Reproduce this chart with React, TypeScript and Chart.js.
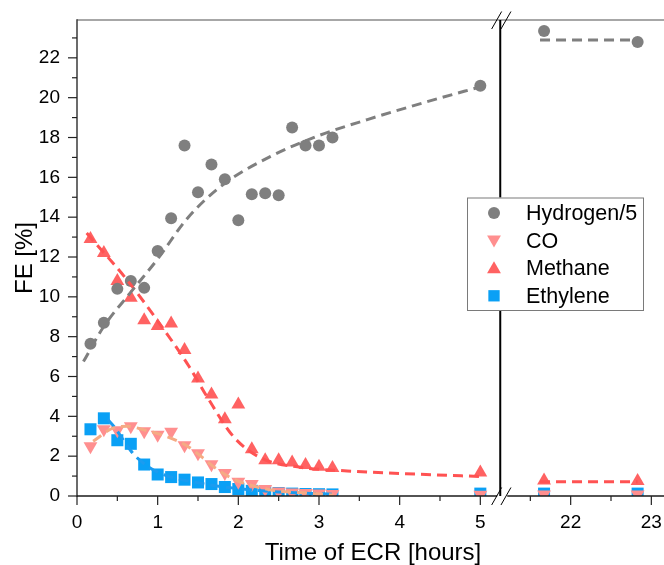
import React, { useEffect, useRef } from "react";
import { Chart, registerables } from "chart.js";

Chart.register(...registerables);

const FONT = "'Liberation Sans', Arial, Helvetica, sans-serif";

// ---- broken x axis (hours) ----
const BREAK_AT = 5.247;
const RESUME_AT = 21.127;
const X_END = 23.157;
const Y_MAX = 23.9;
const GAP = RESUME_AT - BREAK_AT;
const toAxis = (h: number) => (h > BREAK_AT + 0.001 ? h - GAP : h);
const fromAxis = (v: number) => (v > BREAK_AT + 0.001 ? v + GAP : v);

// ---- ticks ----
const xMajorTicks = [0, 1, 2, 3, 4, 5, 22, 23];
const xMinorTicks = [0.5, 1.5, 2.5, 3.5, 4.5, 21.5, 22.5];
const yMajorTicks = [0, 2, 4, 6, 8, 10, 12, 14, 16, 18, 20, 22];
const yMinorTicks = [1, 3, 5, 7, 9, 11, 13, 15, 17, 19, 21, 23];

// ---- measured data ----
const sampleTimes = [0.167, 0.333, 0.5, 0.667, 0.833, 1.0, 1.167, 1.333, 1.5, 1.667, 1.833, 2.0, 2.167, 2.333, 2.5, 2.667, 2.833, 3.0, 3.167, 5.0, 21.67, 22.83];
const hydrogen5 = [7.65, 8.7, 10.4, 10.8, 10.45, 12.3, 13.95, 17.6, 15.25, 16.65, 15.9, 13.85, 15.15, 15.2, 15.1, 18.5, 17.6, 17.6, 18.0, 20.6, 23.35, 22.8];
const co = [2.5, 3.35, 3.3, 3.5, 3.25, 3.07, 3.23, 2.55, 2.15, 1.6, 1.15, 0.72, 0.6, 0.35, 0.22, 0.17, 0.15, 0.12, 0.1, 0.06, 0.08, 0.08];
const methane = [12.9, 12.2, 10.8, 9.95, 8.83, 8.53, 8.66, 7.33, 5.9, 5.1, 3.85, 4.6, 2.35, 1.8, 1.8, 1.68, 1.56, 1.47, 1.4, 1.18, 0.78, 0.75];
const ethylene = [3.35, 3.9, 2.8, 2.62, 1.58, 1.08, 0.95, 0.82, 0.68, 0.6, 0.45, 0.35, 0.26, 0.19, 0.15, 0.12, 0.1, 0.09, 0.08, 0.12, 0.12, 0.12];

// ---- fitted (dashed) curves ----
const h2FitTimes = [0.08, 0.33, 0.66, 1.0, 1.37, 1.8, 2.4, 3.0, 3.6, 4.3, 5.05];
const h2FitValues = [6.75, 8.5, 10.2, 11.9, 13.95, 15.6, 17.05, 18.1, 18.9, 19.75, 20.6];
const h2LateFitTimes = [21.62, 22.83];
const h2LateFitValues = [22.9, 22.9];
const coFitTimes = [0.2, 0.46, 0.62, 0.83, 1.08, 1.35, 1.55, 1.7, 1.94, 2.36, 2.9, 3.18];
const coFitValues = [2.75, 3.43, 3.5, 3.32, 3.03, 2.55, 1.95, 1.45, 0.85, 0.34, 0.13, 0.05];
const ch4FitTimes = [0.12, 0.62, 1.08, 1.39, 1.61, 1.94, 2.29, 2.77, 3.35, 4.2, 5.05];
const ch4FitValues = [13.2, 10.85, 8.34, 6.5, 5.0, 2.98, 1.89, 1.44, 1.26, 1.1, 0.97];
const ch4LateFitTimes = [21.62, 22.83];
const ch4LateFitValues = [0.72, 0.72];
const c2h4FitTimes = [0.38, 0.46, 0.66, 0.75, 1.0, 1.53, 2.0, 2.5, 2.9, 3.2];
const c2h4FitValues = [3.85, 3.48, 2.31, 1.9, 1.2, 0.64, 0.37, 0.2, 0.13, 0.08];

const legendLabels = ["Hydrogen/5", "CO", "Methane", "Ethylene"];

const H2_COLOR = "#7f7f7f";
const CO_COLOR = "#ff8f8f";
const CO_LINE = "#f5ab84";
const CH4_COLOR = "#ff6262";
const CH4_LINE = "#ff5252";
const C2H4_COLOR = "#0aa0f5";
const C2H4_LINE = "#1b9cf0";

const toPoints = (times: number[], vals: number[]) => times.map((t, i) => ({ x: toAxis(t), y: vals[i] }));

function fitLine(label: string, times: number[], vals: number[], color: string) {
  return {
    label,
    data: toPoints(times, vals),
    showLine: true,
    borderColor: color,
    backgroundColor: color,
    borderWidth: 3,
    borderDash: [10, 6],
    pointRadius: 0,
    cubicInterpolationMode: "monotone",
    fill: false,
    order: 0,
  };
}

function markers(label: string, vals: number[], color: string, style: string, radius: number, rotation = 0) {
  return {
    label,
    data: toPoints(sampleTimes, vals),
    showLine: false,
    pointStyle: style,
    pointRadius: radius,
    pointRotation: rotation,
    pointBackgroundColor: color,
    pointBorderColor: color,
    pointBorderWidth: 0,
    backgroundColor: color,
    borderColor: color,
    order: 1,
  };
}

function seg(ctx: CanvasRenderingContext2D, x1: number, y1: number, x2: number, y2: number) {
  ctx.beginPath();
  ctx.moveTo(x1, y1);
  ctx.lineTo(x2, y2);
  ctx.stroke();
}

function drawMarker(ctx: CanvasRenderingContext2D, kind: string, x: number, y: number, r: number, rot: number, color: string) {
  ctx.save();
  ctx.fillStyle = color;
  ctx.translate(x, y);
  ctx.rotate((rot * Math.PI) / 180);
  ctx.beginPath();
  if (kind === "circle") {
    ctx.arc(0, 0, r, 0, Math.PI * 2);
  } else if (kind === "triangle") {
    for (let k = 0; k < 3; k++) {
      const a = (k * 2 * Math.PI) / 3;
      const px = Math.sin(a) * r;
      const py = -Math.cos(a) * r;
      if (k === 0) ctx.moveTo(px, py);
      else ctx.lineTo(px, py);
    }
    ctx.closePath();
  } else {
    const s = r * Math.SQRT1_2;
    ctx.rect(-s, -s, 2 * s, 2 * s);
  }
  ctx.fill();
  ctx.restore();
}

// the plot area runs to the right edge of the canvas (cut off, as in the original)
const fillRight = {
  id: "fillRight",
  afterLayout(chart: any) {
    const a = chart.chartArea;
    const x = chart.scales.x;
    a.right = chart.width;
    a.width = a.right - a.left;
    x.right = chart.width;
    x.width = x.right - x.left;
    x.configure();
  },
};

const decorations = {
  id: "decorations",
  afterDraw(chart: any) {
    const { ctx, chartArea: a, scales } = chart;
    const x = scales.x;
    const y = scales.y;
    const bx = x.getPixelForValue(BREAK_AT);
    ctx.save();
    ctx.lineCap = "butt";

    // frame & axes
    ctx.strokeStyle = "#8a8a8a";
    ctx.lineWidth = 1.5;
    seg(ctx, a.left, a.top, a.right, a.top);
    ctx.strokeStyle = "#3a3a3a";
    seg(ctx, a.left, a.top - 0.75, a.left, a.bottom + 0.75);
    ctx.strokeStyle = "#1a1a1a";
    seg(ctx, a.left, a.bottom, bx - 3, a.bottom);
    seg(ctx, bx + 7, a.bottom, a.right, a.bottom);

    // ticks
    ctx.lineWidth = 1.2;
    ctx.strokeStyle = "#222";
    yMajorTicks.forEach((v) => { const p = y.getPixelForValue(v); seg(ctx, a.left - 9, p, a.left, p); });
    yMinorTicks.forEach((v) => { const p = y.getPixelForValue(v); seg(ctx, a.left - 5, p, a.left, p); });
    xMajorTicks.forEach((h) => { const p = x.getPixelForValue(toAxis(h)); seg(ctx, p, a.bottom, p, a.bottom + 9); });
    xMinorTicks.forEach((h) => { const p = x.getPixelForValue(toAxis(h)); seg(ctx, p, a.bottom, p, a.bottom + 5); });

    // break line + slashes
    ctx.strokeStyle = "#000";
    ctx.lineWidth = 2;
    seg(ctx, bx, a.top, bx, a.bottom);
    ctx.lineWidth = 1;
    [a.top, a.bottom].forEach((yy) => {
      seg(ctx, bx - 8.6, yy + 9, bx + 1.4, yy - 8.5);
      seg(ctx, bx + 0.7, yy + 9, bx + 10.7, yy - 8.5);
    });

    // legend
    const lx = 467, ly = 197.5, lw = 176, lh = 112.5;
    ctx.fillStyle = "#fff";
    ctx.fillRect(lx, ly, lw, lh);
    ctx.strokeStyle = "#7a7a7a";
    ctx.lineWidth = 1;
    ctx.strokeRect(lx + 0.5, ly + 0.5, lw, lh);
    const kinds = [
      ["circle", 6, 0, H2_COLOR],
      ["triangle", 8, 180, CO_COLOR],
      ["triangle", 8, 0, CH4_COLOR],
      ["rect", 8, 0, C2H4_COLOR],
    ] as const;
    ctx.font = `21.5px ${FONT}`;
    ctx.textBaseline = "middle";
    ctx.textAlign = "left";
    legendLabels.forEach((lab, i) => {
      const yy = 213 + i * 27.6;
      const [k, r, rot, c] = kinds[i];
      drawMarker(ctx, k, 494, yy + (k === "triangle" ? (rot ? -1 : 1) : 0), r, rot, c);
      ctx.fillStyle = "#000";
      ctx.fillText(lab, 526, yy + 1);
    });

    // axis titles
    ctx.fillStyle = "#000";
    ctx.font = `24px ${FONT}`;
    ctx.textAlign = "center";
    ctx.textBaseline = "alphabetic";
    ctx.fillText("Time of ECR [hours]", 373, 560);
    ctx.save();
    ctx.translate(32, (a.top + a.bottom) / 2);
    ctx.rotate(-Math.PI / 2);
    ctx.fillText("FE [%]", 0, 0);
    ctx.restore();

    ctx.restore();
  },
};

export default function App() {
  const ref = useRef<HTMLCanvasElement | null>(null);

  useEffect(() => {
    if (!ref.current) return;
    const chart = new Chart(ref.current, {
      type: "scatter",
      data: {
        datasets: [
          fitLine("Hydrogen fit", h2FitTimes, h2FitValues, H2_COLOR),
          fitLine("Hydrogen fit late", h2LateFitTimes, h2LateFitValues, H2_COLOR),
          fitLine("CO fit", coFitTimes, coFitValues, CO_LINE),
          fitLine("Methane fit", ch4FitTimes, ch4FitValues, CH4_LINE),
          fitLine("Methane fit late", ch4LateFitTimes, ch4LateFitValues, CH4_LINE),
          fitLine("Ethylene fit", c2h4FitTimes, c2h4FitValues, C2H4_LINE),
          markers(legendLabels[0], hydrogen5, H2_COLOR, "circle", 6),
          markers(legendLabels[2], methane, CH4_COLOR, "triangle", 8),
          markers(legendLabels[1], co, CO_COLOR, "triangle", 8, 180),
          markers(legendLabels[3], ethylene, C2H4_COLOR, "rect", 8.5),
        ] as any,
      },
      options: {
        animation: false,
        responsive: false,
        maintainAspectRatio: false,
        events: [],
        layout: { padding: { top: 20, left: 0, right: 0, bottom: 0 } },
        plugins: { legend: { display: false }, tooltip: { enabled: false }, title: { display: false } },
        scales: {
          x: {
            type: "linear",
            min: 0,
            max: toAxis(X_END),
            grid: { display: false, drawTicks: true, tickLength: 15 },
            border: { display: false },
            afterBuildTicks: (s: any) => { s.ticks = xMajorTicks.map((h) => ({ value: toAxis(h) })); },
            afterFit: (s: any) => { s.height = 69; s.paddingLeft = 0; s.paddingRight = 0; s.paddingTop = 0; s.paddingBottom = 0; },
            ticks: {
              autoSkip: false,
              maxRotation: 0,
              minRotation: 0,
              padding: 0,
              color: "#000",
              font: { family: FONT, size: 19 },
              callback: (v: any) => String(Math.round(fromAxis(Number(v)))),
            },
          },
          y: {
            type: "linear",
            min: 0,
            max: Y_MAX,
            grid: { display: false, drawTicks: false },
            border: { display: false },
            afterBuildTicks: (s: any) => { s.ticks = yMajorTicks.map((v) => ({ value: v })); },
            afterFit: (s: any) => { s.width = 77; s.paddingLeft = 0; s.paddingRight = 0; s.paddingTop = 0; s.paddingBottom = 0; },
            ticks: {
              padding: 17,
              color: "#000",
              font: { family: FONT, size: 19 },
              callback: (v: any) => String(v),
            },
          },
        },
      } as any,
      plugins: [fillRight, decorations],
    });
    return () => chart.destroy();
  }, []);

  return (
    <div style={{ position: "fixed", left: 0, top: 0, width: 664, height: 565, background: "#fff" }}>
      <canvas ref={ref} width={664} height={565} style={{ display: "block" }} />
    </div>
  );
}
